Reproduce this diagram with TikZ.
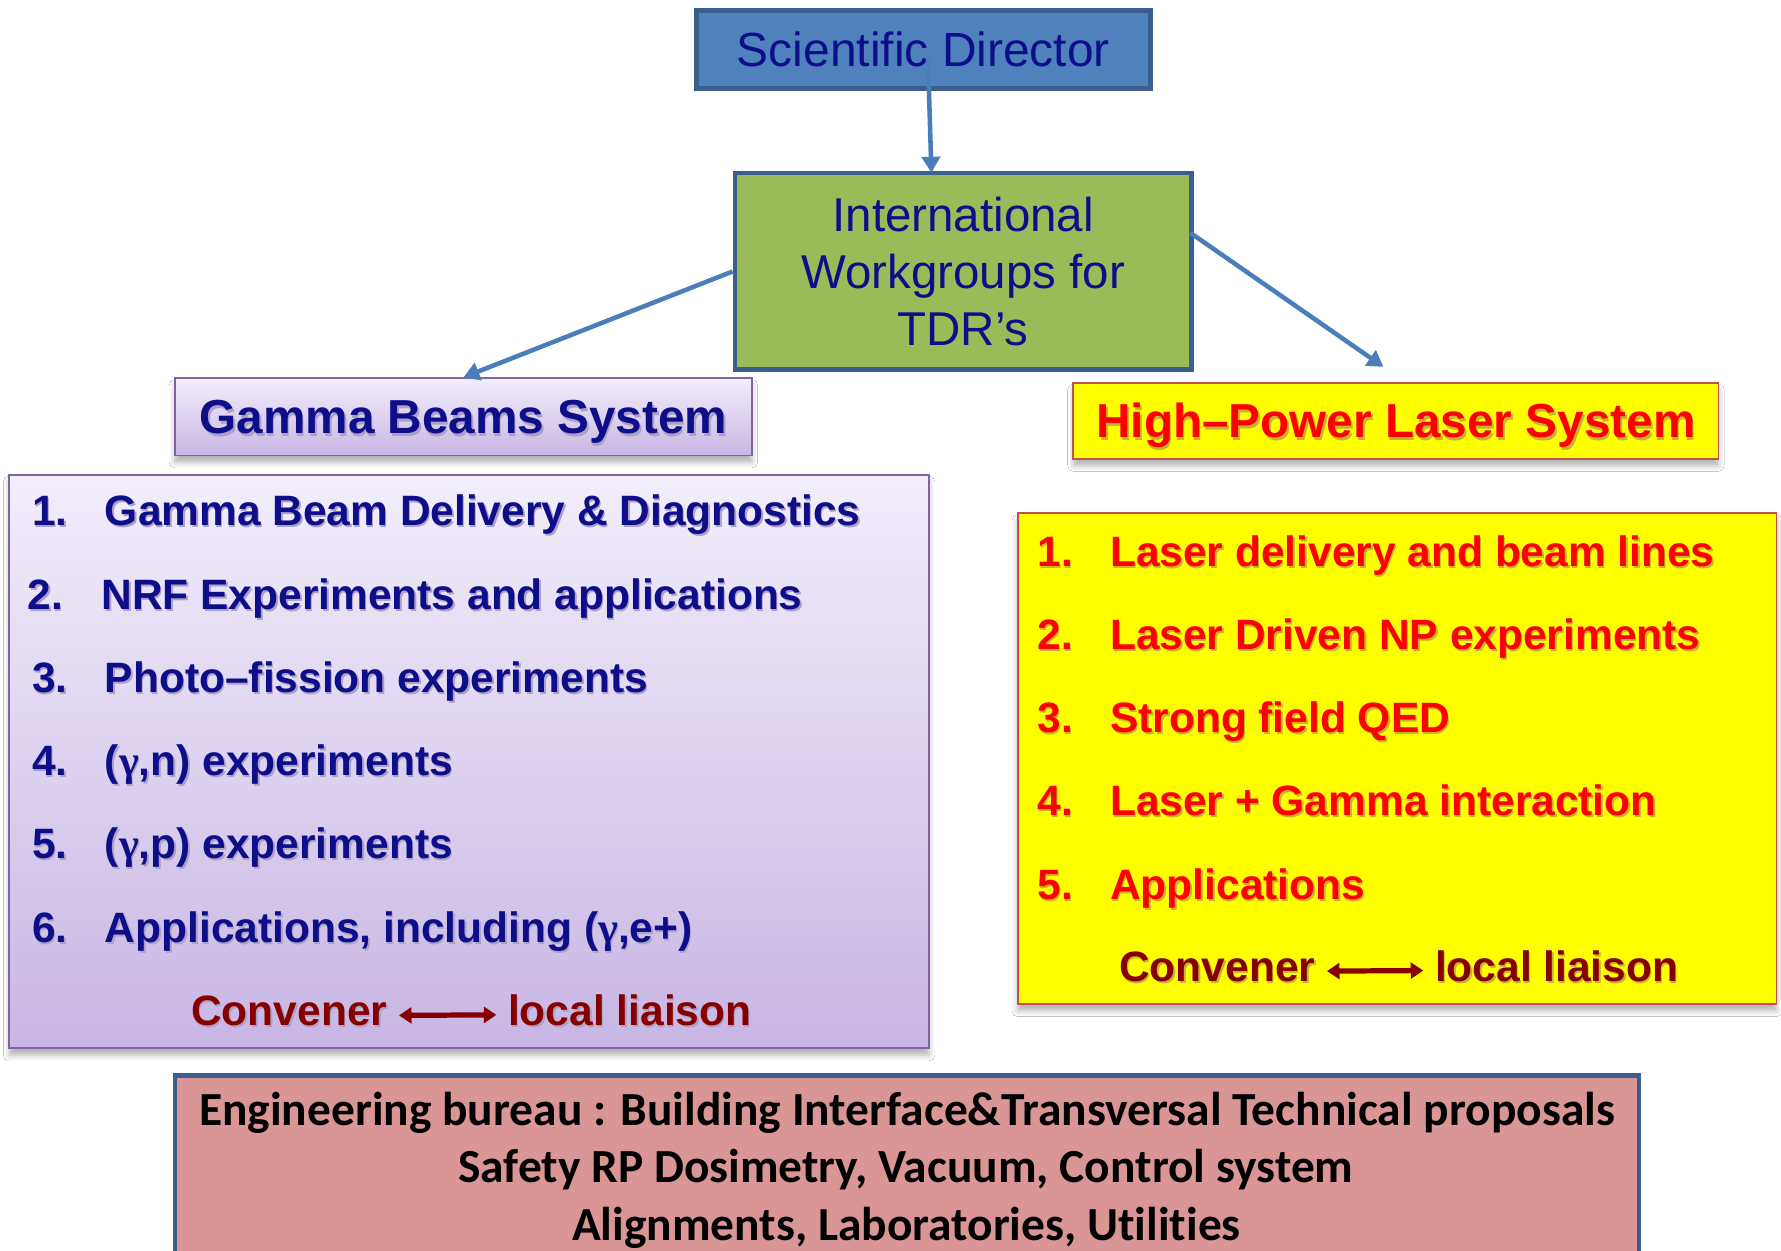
\documentclass[tikz,border=0pt]{standalone}
\usepackage{fontspec}
\setmainfont{Liberation Sans}
\newfontfamily\engfont[Ligatures=NoCommon]{Carlito}
\newfontfamily\grkfont{Liberation Serif}
\usetikzlibrary{arrows.meta,shadows.blur}

\definecolor{ink}{RGB}{14,14,138}
\definecolor{sdfill}{RGB}{79,129,189}
\definecolor{boxline}{RGB}{58,95,142}
\definecolor{iwfill}{RGB}{155,187,89}
\definecolor{link}{RGB}{74,126,187}
\definecolor{lavtop}{RGB}{242,238,251}
\definecolor{lavbot}{RGB}{200,182,228}
\definecolor{lavline}{RGB}{128,100,162}
\definecolor{laser}{RGB}{255,255,0}
\definecolor{laserline}{RGB}{192,80,77}
\definecolor{hot}{RGB}{255,0,0}
\definecolor{maroon}{RGB}{135,0,0}
\definecolor{engfill}{RGB}{217,150,148}
\definecolor{shlav}{RGB}{172,160,196}
\definecolor{shyel}{RGB}{196,180,50}

% text with a light drop shadow behind it
\newcommand\shd[2]{\leavevmode\rlap{\hspace{0.035em}\raisebox{-0.045em}{\color{#1}#2}}#2}
\newcommand\g{{\grkfont γ}}

\tikzset{
  link/.style={draw=link, line width=2pt, -{Triangle[width=8pt,length=7pt]}},
  conv/.style={draw=maroon, line width=2.3pt,
    {Triangle[width=7pt,length=5.5pt]}-{Triangle[width=7pt,length=5.5pt]}},
  softshadow/.style={blur shadow={shadow xshift=0pt, shadow yshift=-3pt,
    shadow blur radius=2.5pt, shadow opacity=30}},
  lavbox/.style={rectangle, inner sep=0, top color=lavtop, bottom color=lavbot,
    draw=lavline, line width=0.8pt, softshadow},
  yelbox/.style={rectangle, inner sep=0, fill=laser, draw=laserline,
    line width=0.8pt, softshadow},
  title/.style={font=\bfseries\fontsize{21pt}{25pt}\selectfont,
    text height=15pt, text depth=0pt},
  gitem/.style={anchor=base west, inner sep=0, text=ink,
    font=\bfseries\fontsize{18.7pt}{22pt}\selectfont},
  litem/.style={gitem, text=hot},
  convtext/.style={gitem, text=maroon},
  engline/.style={anchor=base, inner sep=0, text=black,
    font=\engfont\bfseries\fontsize{20.9pt}{25pt}\selectfont},
}

\begin{document}
\begin{tikzpicture}[x=0.5pt, y=-0.5pt]
\useasboundingbox (0,0) rectangle (1568,1101);
\clip (0,0) rectangle (1568,1101);
\fill[white] (0,0) rectangle (1568,1101);

% top of the hierarchy
\node[rectangle, inner sep=0, minimum width=200pt, minimum height=34.5pt,
      fill=sdfill, draw=boxline, line width=2.2pt, text=ink,
      font=\fontsize{21.1pt}{25pt}\selectfont, text height=15.1pt, text depth=0pt]
  (sd) at (813,43.5) {Scientific Director};

\node[rectangle, inner sep=0, minimum width=201pt, minimum height=86.5pt,
      fill=iwfill, draw=boxline, line width=2pt, text=ink, align=center,
      font=\fontsize{20.9pt}{25pt}\selectfont]
  (iw) at (848,239) {International\\Workgroups for\\TDR’s};

\coordinate (sdtail) at (817,51);
\coordinate (iwtop) at (820,152);
\draw[link] (sdtail) -- (iwtop);

% the two systems
\node[lavbox, minimum width=254pt, minimum height=34pt, text=ink, title]
  (gbt) at (408,367) {\shd{shlav}{Gamma Beams System}};

\node[yelbox, minimum width=284pt, minimum height=33.5pt, text=hot, title]
  (hpt) at (1229,370.5) {\shd{shyel}{High–Power Laser System}};

\draw[link] (iw.west) -- (gbt.north);
\coordinate (iweast) at (1048,205);
\coordinate (hptip) at (1218,323);
\draw[link] (iweast) -- (hptip);

% gamma working groups
\node[lavbox, minimum width=405pt, minimum height=252.5pt] (gbl) at (413,670.5) {};
\node[gitem] (gn1) at (28,463)   {\shd{shlav}{1.}};
\node[gitem] (gi1) at (92,463)   {\shd{shlav}{Gamma Beam Delivery \& Diagnostics}};
\node[gitem] (gn2) at (24,537)   {\shd{shlav}{2.}};
\node[gitem] (gi2) at (89,537)   {\shd{shlav}{NRF Experiments and applications}};
\node[gitem] (gn3) at (28,610)   {\shd{shlav}{3.}};
\node[gitem] (gi3) at (92,610)   {\shd{shlav}{Photo–fission experiments}};
\node[gitem] (gn4) at (28,683)   {\shd{shlav}{4.}};
\node[gitem] (gi4) at (92,683)   {\shd{shlav}{(\g,n) experiments}};
\node[gitem] (gn5) at (28,756)   {\shd{shlav}{5.}};
\node[gitem] (gi5) at (92,756)   {\shd{shlav}{(\g,p) experiments}};
\node[gitem] (gn6) at (28,829.5) {\shd{shlav}{6.}};
\node[gitem] (gi6) at (92,829.5) {\shd{shlav}{Applications, including (\g,e+)}};
\node[convtext] (gconv) at (168,903) {\shd{shlav}{Convener}};
\node[convtext] (gliai) at (447,903) {\shd{shlav}{local liaison}};
\draw[conv] ([xshift=5pt,yshift=-1.5pt]gconv.east) -- ([xshift=-5pt,yshift=-1.5pt]gliai.west);

% laser working groups
\node[yelbox, minimum width=334pt, minimum height=216pt] (hpl) at (1230,668) {};
\node[litem] (ln1) at (913,499) {\shd{shyel}{1.}};
\node[litem] (li1) at (977,499) {\shd{shyel}{Laser delivery and beam lines}};
\node[litem] (ln2) at (913,572) {\shd{shyel}{2.}};
\node[litem] (li2) at (977,572) {\shd{shyel}{Laser Driven NP experiments}};
\node[litem] (ln3) at (913,645) {\shd{shyel}{3.}};
\node[litem] (li3) at (977,645) {\shd{shyel}{Strong field QED}};
\node[litem] (ln4) at (913,718) {\shd{shyel}{4.}};
\node[litem] (li4) at (977,718) {\shd{shyel}{Laser + Gamma interaction}};
\node[litem] (ln5) at (913,792) {\shd{shyel}{5.}};
\node[litem] (li5) at (977,792) {\shd{shyel}{Applications}};
\node[convtext] (lconv) at (985,864)  {\shd{shyel}{Convener}};
\node[convtext] (lliai) at (1263,864) {\shd{shyel}{local liaison}};
\draw[conv] ([xshift=5pt,yshift=-1.5pt]lconv.east) -- ([xshift=-5pt,yshift=-1.5pt]lliai.west);

% engineering bureau
\node[rectangle, inner sep=0, minimum width=644.5pt, minimum height=91.5pt,
      fill=engfill, draw=boxline, line width=2pt] (eng) at (798.5,1038.5) {};
\node[engline] (e1) at (798.5,991) {Engineering bureau : Building Interface\&Transversal Technical proposals};
\node[engline] (e2) at (797.5,1041) {Safety RP Dosimetry, Vacuum, Control system};
\node[engline] (e3) at (798,1092) {Alignments, Laboratories, Utilities};
\end{tikzpicture}
\end{document}
